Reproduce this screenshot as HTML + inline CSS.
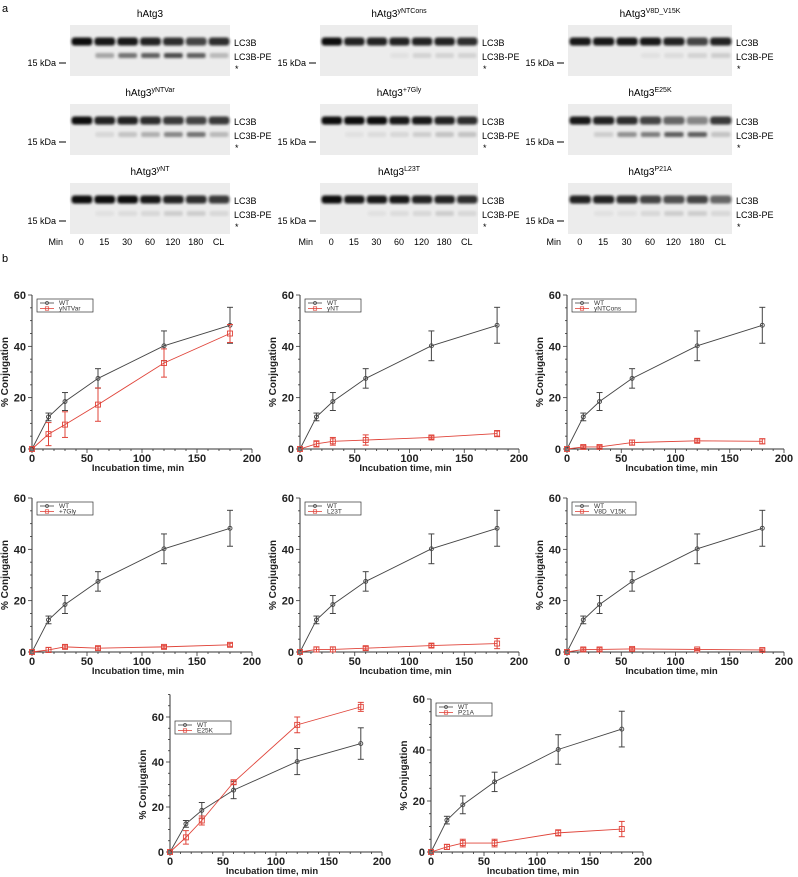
<!DOCTYPE html>
<html><head><meta charset="utf-8"><style>
body{margin:0;background:#fff;}
svg{display:block;font-family:"Liberation Sans",sans-serif;}
</style></head><body>
<svg id="fig" width="798" height="877" viewBox="0 0 798 877" xmlns="http://www.w3.org/2000/svg">
<defs>
<filter id="blur" x="-10%" y="-50%" width="120%" height="200%"><feGaussianBlur stdDeviation="1.3"/></filter>
</defs>
<text x="2" y="12" font-size="11">a</text>
<text x="2" y="262" font-size="11">b</text>
<g id="blots"></g>
<g id="charts"></g>
</svg>
<script>
const NS="http://www.w3.org/2000/svg";
function mk(tag,attrs,parent,txt){const e=document.createElementNS(NS,tag);for(const k in attrs)e.setAttribute(k,attrs[k]);if(txt!==undefined)e.textContent=txt;parent.appendChild(e);return e;}

// ---------- Blot data ----------
const blotNames=["","yNTCons","V8D_V15K","yNTVar","+7Gly","E25K","yNT","L23T","P21A"];
const blotMain=[[1,.95,.95,.9,.85,.75,.85],[1,.9,.9,.9,.9,.9,.85],[.95,.95,.95,.95,.9,.75,.9],[1,.9,.9,.85,.8,.75,.8],[1,1,1,.95,.95,.9,.85],[.95,.9,.85,.75,.6,.45,.8],[1,1,1,.95,.9,.85,.8],[1,.95,.95,.95,.9,.9,.85],[.9,.9,.85,.75,.7,.75,.6]];
const blotPE=[[0,.35,.6,.7,.8,.7,.25],[0,0,0,.05,.12,.12,.12],[0,0,0,.05,.08,.12,.15],[0,.1,.2,.3,.5,.6,.25],[0,.05,.08,.1,.15,.2,.2],[0,.15,.45,.55,.7,.7,.2],[0,.05,.08,.1,.15,.15,.1],[0,0,.05,.08,.1,.15,.1],[0,.05,.05,.1,.15,.15,.1]];
const minLabels=["0","15","30","60","120","180","CL"];
const blotG=document.getElementById("blots");
const colX=[70,320,568],colW=[160,158,164],rowY=[25,104,183];
for(let i=0;i<9;i++){
  const c=i%3,r=Math.floor(i/3),x=colX[c],y=rowY[r],w=colW[c];
  const g=mk("g",{},blotG);
  
  
  mk("rect",{x:x,y:y,width:w,height:51,fill:"#ececec"},g);
  const t=mk("text",{x:x+w/2,y:y-8,"font-size":"10","text-anchor":"middle"},g,"hAtg3");
  if(blotNames[i]){mk("tspan",{dy:"-4","font-size":"7"},t,blotNames[i]);}
  const lw=w/7;
  for(let l=0;l<7;l++){
    const m=blotMain[i][l];
    mk("rect",{x:x+l*lw+1.5,y:y+12.5,width:lw-2,height:8,rx:3,fill:"#111",opacity:m,filter:"url(#blur)"},g);
    const p=blotPE[i][l];
    if(p>0)mk("rect",{x:x+l*lw+2.5,y:y+28,width:lw-4,height:5,rx:2,fill:"#222",opacity:p,filter:"url(#blur)"},g);
  }
  mk("text",{x:x+w+4,y:y+21,"font-size":"9"},g,"LC3B");
  mk("text",{x:x+w+4,y:y+35,"font-size":"9"},g,"LC3B-PE");
  mk("text",{x:x+w+5,y:y+47,"font-size":"9"},g,"*");
  mk("text",{x:x-14,y:y+41,"font-size":"9","text-anchor":"end"},g,"15 kDa");
  mk("line",{x1:x-11,x2:x-4,y1:y+38,y2:y+38,stroke:"#000","stroke-width":"1"},g);
  if(r===2){
    mk("text",{x:x-7,y:245,"font-size":"9","text-anchor":"end"},g,"Min");
    for(let l=0;l<7;l++)mk("text",{x:x+l*lw+lw/2,y:245,"font-size":"9","text-anchor":"middle"},g,minLabels[l]);
  }
}

// ---------- Chart data ----------
const times=[0,15,30,60,120,180];
const wtValues=[0,12.5,18.5,27.5,40.2,48.2];
const wtErrors=[0,1.5,3.5,3.8,5.8,7];
const mutantNames=["yNTVar","yNT","yNTCons","+7Gly","L23T","V8D_V15K","E25K","P21A"];
const mutYNTVar=[0,5.8,9.5,17.3,33.5,45];
const errYNTVar=[0,4.5,5,6.5,5.5,3.5];
const mutYNT=[0,2,3,3.5,4.5,6];
const errYNT=[0,1.2,1.5,2,0.6,1.2];
const mutYNTCons=[0,0.8,0.8,2.5,3.2,3];
const errYNTCons=[0,0.5,0.5,1,0.7,1];
const mut7Gly=[0,0.8,2,1.5,2,2.8];
const err7Gly=[0,1,0.7,0.7,0.6,0.6];
const mutL23T=[0,1,1,1.5,2.5,3.3];
const errL23T=[0,1,1,0.7,0.7,2];
const mutV8D=[0,1,1,1.2,1,0.8];
const errV8D=[0,0.6,0.6,0.5,0.4,0.4];
const mutE25K=[0,6.5,14,31,56.5,64.5];
const errE25K=[0,3,2,1,3.5,2];
const mutP21A=[0,2,3.5,3.5,7.5,9];
const errP21A=[0,1,1.5,1.5,1.2,3];
const mutValues=[mutYNTVar,mutYNT,mutYNTCons,mut7Gly,mutL23T,mutV8D,mutE25K,mutP21A];
const mutErrors=[errYNTVar,errYNT,errYNTCons,err7Gly,errL23T,errV8D,errE25K,errP21A];
const xTicks=[0,50,100,150,200];
const yTicks=[0,20,40,60];

// layout: [x0, x200, y0, y60, ymax]
const layouts=[[32,252,449,295,60],[300,519,449,295,60],[567,784,449,295,60],
[32,252,652,498,60],[300,519,652,498,60],[567,784,652,498,60],
[170,382,852,717,70],[431,643,852,699,60]];
const chartsG=document.getElementById("charts");
for(let k=0;k<8;k++){
  const [X0,X1,Y0,Y60,ymax]=layouts[k];
  const sx=v=>X0+(X1-X0)*v/200, sy=v=>Y0-(Y0-Y60)*v/60;
  const g=mk("g",{},chartsG);
  
  
  const ax="#333";
  const xa=mk("g",{},g);
  
  
  mk("line",{x1:X0,x2:X1,y1:Y0,y2:Y0,stroke:ax,"stroke-width":"1"},xa);
  for(let v=0;v<=200;v+=10){const big=v%50===0;mk("line",{x1:sx(v),x2:sx(v),y1:Y0,y2:Y0+(big?4:2),stroke:ax,"stroke-width":"0.8"},xa);}
  xTicks.forEach(v=>mk("text",{x:sx(v),y:Y0+13,"font-size":"11","text-anchor":"middle","font-weight":"bold",fill:"#222"},xa,v));
  const xt=mk("text",{x:(X0+X1)/2-4,y:Y0+22,"font-size":"9.5","text-anchor":"middle","font-weight":"bold",fill:"#222"},g,"Incubation time, min");
  
  
  const ya=mk("g",{},g);
  
  
  mk("line",{x1:X0,x2:X0,y1:Y0,y2:sy(ymax),stroke:ax,"stroke-width":"1"},ya);
  for(let v=0;v<=ymax;v+=5){const big=v%20===0;mk("line",{x1:X0,x2:X0-(big?4:2),y1:sy(v),y2:sy(v),stroke:ax,"stroke-width":"0.8"},ya);}
  yTicks.forEach(v=>mk("text",{x:X0-6,y:sy(v)+4,"font-size":"11","text-anchor":"end","font-weight":"bold",fill:"#222"},ya,v));
  const yt=mk("text",{x:0,y:0,"font-size":"10","text-anchor":"middle","font-weight":"bold",fill:"#222",transform:`translate(${X0-24},${(Y0+Y60)/2}) rotate(-90)`},g,"% Conjugation");
  
  
  const series=[[wtValues,wtErrors,"#444","wt"],[mutValues[k],mutErrors[k],"#e0443a","mutant"]];
  series.forEach(([vals,errs,col,nm])=>{
    const sg=mk("g",{},g);
    
    
    mk("polyline",{points:times.map((t,i)=>sx(t)+","+sy(vals[i])).join(" "),fill:"none",stroke:col,"stroke-width":"0.9"},sg);
    times.forEach((t,i)=>{
      const cx=sx(t),cy=sy(vals[i]),e=errs[i];
      if(e>0){
        mk("line",{x1:cx,x2:cx,y1:sy(vals[i]-e),y2:sy(vals[i]+e),stroke:col,"stroke-width":"1"},sg);
        mk("line",{x1:cx-3,x2:cx+3,y1:sy(vals[i]+e),y2:sy(vals[i]+e),stroke:col,"stroke-width":"1"},sg);
        mk("line",{x1:cx-3,x2:cx+3,y1:sy(vals[i]-e),y2:sy(vals[i]-e),stroke:col,"stroke-width":"1"},sg);
      }
      const m=nm==="wt"?mk("circle",{cx:cx,cy:cy,r:2,fill:"none",stroke:col,"stroke-width":"0.9"},sg)
        :mk("rect",{x:cx-2.5,y:cy-2.5,width:5,height:5,fill:"none",stroke:col,"stroke-width":"0.9"},sg);
      
      
    });
  });
  const lg=mk("g",{},g);
  
  
  const lx=X0+5,ly=sy(60)+4,lw=k===2||k===5?64:56;
  mk("rect",{x:lx,y:ly,width:lw,height:13,fill:"#fff",stroke:"#333","stroke-width":"0.7"},lg);
  [["WT","#444"],[mutantNames[k],"#e0443a"]].forEach(([n,c],j)=>{
    const yy=ly+4+j*5.5;
    mk("line",{x1:lx+3,x2:lx+17,y1:yy,y2:yy,stroke:c,"stroke-width":"0.8"},lg);
    if(j===0)mk("circle",{cx:lx+10,cy:yy,r:1.5,fill:"none",stroke:c,"stroke-width":"0.7"},lg);
    else mk("rect",{x:lx+8.3,y:yy-1.7,width:3.4,height:3.4,fill:"none",stroke:c,"stroke-width":"0.7"},lg);
    mk("text",{x:lx+22,y:yy+2.2,"font-size":"6.5",fill:"#333"},lg,n);
  });
}
</script>
</body></html>
